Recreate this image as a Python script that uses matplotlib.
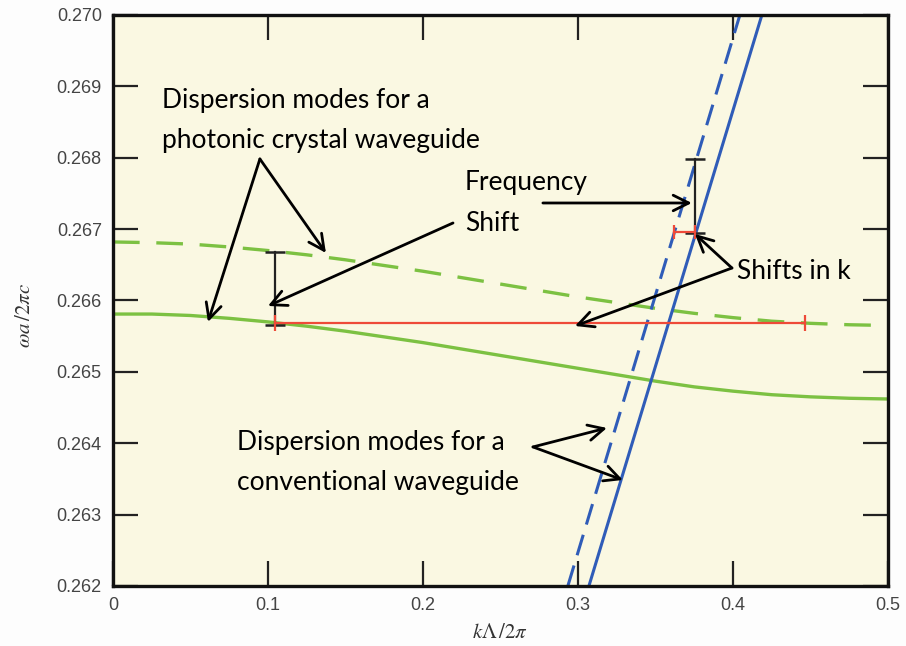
import matplotlib
matplotlib.use("Agg")
import matplotlib.pyplot as plt

# ---- data ----
k_grid = [0.000, 0.025, 0.050, 0.075, 0.100, 0.125, 0.150, 0.175, 0.200, 0.225, 0.250,
          0.275, 0.300, 0.325, 0.350, 0.375, 0.400, 0.425, 0.450, 0.475, 0.500]
pc_mode = [0.26581, 0.26581, 0.26579, 0.26575, 0.26570, 0.26564, 0.26557, 0.26549,
           0.26541, 0.26532, 0.26523, 0.26514, 0.26505, 0.26496, 0.26487, 0.26479,
           0.26473, 0.26468, 0.26465, 0.26463, 0.26462]
pc_mode_shifted = [0.26682, 0.26681, 0.26679, 0.26675, 0.26670, 0.26664, 0.26657,
                   0.26649, 0.26641, 0.26632, 0.26623, 0.26614, 0.26605, 0.26597,
                   0.26589, 0.26582, 0.26576, 0.26571, 0.26568, 0.26566, 0.26565]

# conventional waveguide: straight lines across the visible window
conv_k = [0.3071, 0.4187]
conv_w = [0.262, 0.270]
conv_shifted_k = [0.2935, 0.4045]
conv_shifted_w = [0.262, 0.270]

# frequency shift / k shift markers
pc_freq_k = 0.1045
pc_freq_w = [0.26566, 0.26668]
pc_kshift_w = 0.26568
pc_kshift_k = [0.1045, 0.4465]
conv_freq_k = 0.3755
conv_freq_w = [0.26695, 0.26798]
conv_kshift_w = 0.26696
conv_kshift_k = [0.3620, 0.3755]

xticks = [0, 0.1, 0.2, 0.3, 0.4, 0.5]
xticklabels = ["0", "0.1", "0.2", "0.3", "0.4", "0.5"]
yticks = [0.262, 0.263, 0.264, 0.265, 0.266, 0.267, 0.268, 0.269, 0.270]
yticklabels = ["%.3f" % v for v in yticks]

GREEN = "#7cc142"
BLUE = "#2f5cb8"
RED = "#ee4a38"
BG = "#faf8e2"

plt.rcParams["mathtext.fontset"] = "stix"

fig = plt.figure(figsize=(9.06, 6.46), dpi=100, facecolor="#fdfdfd")
ax = fig.add_axes([0.1247, 0.0929, 0.8553, 0.8839])
ax.set_facecolor(BG)

ax.plot(k_grid, pc_mode, color=GREEN, lw=2.4)
ax.plot(k_grid, pc_mode_shifted, color=GREEN, lw=2.4, dashes=(8, 5))
ax.plot(conv_k, conv_w, color=BLUE, lw=2.2)
ax.plot(conv_shifted_k, conv_shifted_w, color=BLUE, lw=2.2, dashes=(7, 3.5))

# shift markers
ax.plot([pc_freq_k, pc_freq_k], pc_freq_w, color="#222222", lw=1.6,
        marker="_", markersize=15, markeredgewidth=1.8)
ax.plot(pc_kshift_k, [pc_kshift_w, pc_kshift_w], color=RED, lw=1.6,
        marker="|", markersize=12, markeredgewidth=1.6)
ax.plot([conv_freq_k, conv_freq_k], conv_freq_w, color="#222222", lw=1.6,
        marker="_", markersize=15, markeredgewidth=1.8)
ax.plot(conv_kshift_k, [conv_kshift_w, conv_kshift_w], color=RED, lw=1.6,
        marker="|", markersize=10, markeredgewidth=1.6)

ax.set_xlim(0, 0.5)
ax.set_ylim(0.262, 0.270)
ax.set_xticks(xticks)
ax.set_xticklabels(xticklabels, family="Liberation Sans", fontsize=13, color="#444444")
ax.set_yticks(yticks)
ax.set_yticklabels(yticklabels, family="Liberation Sans", fontsize=13, color="#444444")
ax.tick_params(direction="in", length=18, width=1.6, color="#222222",
               top=True, right=True, pad=8)
for s in ax.spines.values():
    s.set_linewidth(2.4)
    s.set_color("#111111")

fig.text(500 / 906, 1 - 632 / 646, r"$k\mathit{\Lambda}\,/2\pi$", ha="center", va="center",
         fontsize=15, color="#333333")
fig.text(24 / 906, 1 - 316 / 646, r"$\omega a\,/2\pi c$", ha="center", va="center",
         rotation=90, fontsize=15, color="#333333")

# annotations
tfont = dict(family="Lato", fontsize=19, color="black")
ax.text(0.0316, 0.268697, "Dispersion modes for a", **tfont)
ax.text(0.0316, 0.268137, "photonic crystal waveguide", **tfont)
ax.text(0.2271, 0.267548, "Frequency", **tfont)
ax.text(0.2271, 0.266974, "Shift", **tfont)
ax.text(0.4026, 0.266301, "Shifts in k", **tfont)
ax.text(0.0800, 0.263905, "Dispersion modes for a", **tfont)
ax.text(0.0800, 0.263345, "conventional waveguide", **tfont)

arrow = dict(arrowstyle="->", lw=2.0, color="black", mutation_scale=28,
             shrinkA=0, shrinkB=0)
arrows = [
    ((0.0948, 0.267983), (0.0613, 0.265699)),
    ((0.0948, 0.267983), (0.1374, 0.266666)),
    ((0.2774, 0.267366), (0.3735, 0.267366)),
    ((0.2194, 0.267086), (0.1000, 0.265923)),
    ((0.3994, 0.266455), (0.3755, 0.266932)),
    ((0.3994, 0.266455), (0.2981, 0.265643)),
    ((0.2710, 0.263948), (0.3187, 0.264214)),
    ((0.2710, 0.263948), (0.3290, 0.263485)),
]
for start, end in arrows:
    ax.annotate("", xy=end, xytext=start, arrowprops=arrow)

fig.savefig("out.png", dpi=100, facecolor=fig.get_facecolor())
